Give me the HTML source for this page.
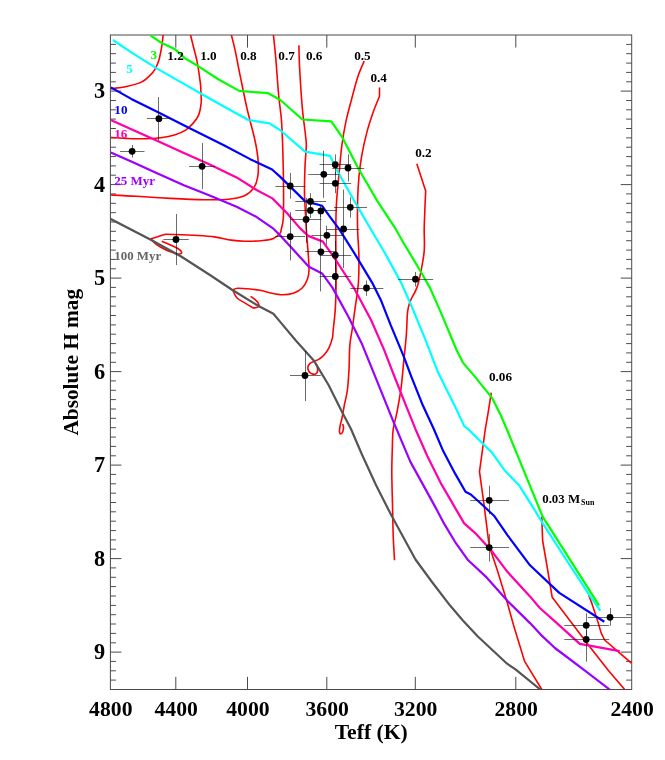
<!DOCTYPE html>
<html><head><meta charset="utf-8"><title>HR diagram</title>
<style>
html,body{margin:0;padding:0;background:#fff;}
body{width:665px;height:760px;position:relative;overflow:hidden;font-family:"Liberation Serif",serif;}
</style></head><body>
<svg width="665" height="760" viewBox="0 0 665 760" style="position:absolute;left:0;top:0;will-change:transform;opacity:0.999">
<defs><clipPath id="cp"><rect x="110.4" y="35.0" width="521.3" height="654.5"/></clipPath></defs>
<g stroke="#4a4a4a" stroke-width="1" fill="none" >
<rect x="110.4" y="35.0" width="521.3" height="654.5"/>
<path d="M110.4 44.4h5.5 M631.7 44.4h-5.5 M110.4 53.7h5.5 M631.7 53.7h-5.5 M110.4 63.1h5.5 M631.7 63.1h-5.5 M110.4 72.4h5.5 M631.7 72.4h-5.5 M110.4 81.8h5.5 M631.7 81.8h-5.5 M110.4 91.1h11.0 M631.7 91.1h-11.0 M110.4 100.5h5.5 M631.7 100.5h-5.5 M110.4 109.8h5.5 M631.7 109.8h-5.5 M110.4 119.1h5.5 M631.7 119.1h-5.5 M110.4 128.5h5.5 M631.7 128.5h-5.5 M110.4 137.9h5.5 M631.7 137.9h-5.5 M110.4 147.2h5.5 M631.7 147.2h-5.5 M110.4 156.6h5.5 M631.7 156.6h-5.5 M110.4 165.9h5.5 M631.7 165.9h-5.5 M110.4 175.2h5.5 M631.7 175.2h-5.5 M110.4 184.6h11.0 M631.7 184.6h-11.0 M110.4 193.9h5.5 M631.7 193.9h-5.5 M110.4 203.3h5.5 M631.7 203.3h-5.5 M110.4 212.7h5.5 M631.7 212.7h-5.5 M110.4 222.0h5.5 M631.7 222.0h-5.5 M110.4 231.3h5.5 M631.7 231.3h-5.5 M110.4 240.7h5.5 M631.7 240.7h-5.5 M110.4 250.1h5.5 M631.7 250.1h-5.5 M110.4 259.4h5.5 M631.7 259.4h-5.5 M110.4 268.8h5.5 M631.7 268.8h-5.5 M110.4 278.1h11.0 M631.7 278.1h-11.0 M110.4 287.4h5.5 M631.7 287.4h-5.5 M110.4 296.8h5.5 M631.7 296.8h-5.5 M110.4 306.1h5.5 M631.7 306.1h-5.5 M110.4 315.5h5.5 M631.7 315.5h-5.5 M110.4 324.9h5.5 M631.7 324.9h-5.5 M110.4 334.2h5.5 M631.7 334.2h-5.5 M110.4 343.6h5.5 M631.7 343.6h-5.5 M110.4 352.9h5.5 M631.7 352.9h-5.5 M110.4 362.3h5.5 M631.7 362.3h-5.5 M110.4 371.6h11.0 M631.7 371.6h-11.0 M110.4 380.9h5.5 M631.7 380.9h-5.5 M110.4 390.3h5.5 M631.7 390.3h-5.5 M110.4 399.6h5.5 M631.7 399.6h-5.5 M110.4 409.0h5.5 M631.7 409.0h-5.5 M110.4 418.3h5.5 M631.7 418.3h-5.5 M110.4 427.7h5.5 M631.7 427.7h-5.5 M110.4 437.1h5.5 M631.7 437.1h-5.5 M110.4 446.4h5.5 M631.7 446.4h-5.5 M110.4 455.8h5.5 M631.7 455.8h-5.5 M110.4 465.1h11.0 M631.7 465.1h-11.0 M110.4 474.4h5.5 M631.7 474.4h-5.5 M110.4 483.8h5.5 M631.7 483.8h-5.5 M110.4 493.2h5.5 M631.7 493.2h-5.5 M110.4 502.5h5.5 M631.7 502.5h-5.5 M110.4 511.8h5.5 M631.7 511.8h-5.5 M110.4 521.2h5.5 M631.7 521.2h-5.5 M110.4 530.6h5.5 M631.7 530.6h-5.5 M110.4 539.9h5.5 M631.7 539.9h-5.5 M110.4 549.2h5.5 M631.7 549.2h-5.5 M110.4 558.6h11.0 M631.7 558.6h-11.0 M110.4 567.9h5.5 M631.7 567.9h-5.5 M110.4 577.3h5.5 M631.7 577.3h-5.5 M110.4 586.6h5.5 M631.7 586.6h-5.5 M110.4 596.0h5.5 M631.7 596.0h-5.5 M110.4 605.4h5.5 M631.7 605.4h-5.5 M110.4 614.7h5.5 M631.7 614.7h-5.5 M110.4 624.0h5.5 M631.7 624.0h-5.5 M110.4 633.4h5.5 M631.7 633.4h-5.5 M110.4 642.8h5.5 M631.7 642.8h-5.5 M110.4 652.1h11.0 M631.7 652.1h-11.0 M110.4 661.4h5.5 M631.7 661.4h-5.5 M110.4 670.8h5.5 M631.7 670.8h-5.5 M110.4 680.1h5.5 M631.7 680.1h-5.5 M175.8 35.0v12.6 M175.8 689.5v-12.6 M247.5 35.0v12.6 M247.5 689.5v-12.6 M326.8 35.0v12.6 M326.8 689.5v-12.6 M415.3 35.0v12.6 M415.3 689.5v-12.6 M515.8 35.0v12.6 M515.8 689.5v-12.6"/>
</g>
<g fill="none" stroke-linejoin="round" stroke-linecap="butt" clip-path="url(#cp)">
<g stroke="#ff0000" stroke-width="1.6">
<path d="M163.2 34.7 C163.1 35.6 162.8 38.1 162.6 40.0 C162.4 41.9 162.1 44.0 161.8 46.0 C161.5 48.0 161.3 49.3 160.8 51.7 C160.3 54.1 159.7 57.6 158.8 60.5 C157.9 63.4 156.6 66.3 155.2 68.8 C153.8 71.2 152.5 73.0 150.2 75.2 C147.9 77.4 145.2 80.3 141.4 82.1 C137.6 83.9 132.2 85.2 127.6 86.2 C123.0 87.2 116.6 88.0 113.8 88.4 C111.0 88.8 111.0 88.6 110.5 88.6"/>
<path d="M190.5 34.7 C190.9 36.6 192.1 41.3 193.2 45.8 C194.3 50.3 195.9 55.5 197.1 61.6 C198.3 67.7 199.7 77.9 200.3 82.6 C200.9 87.3 200.7 86.7 200.8 90.0 C201.0 93.3 201.5 98.2 201.2 102.4 C200.8 106.6 200.0 111.5 198.7 114.9 C197.4 118.4 195.4 120.6 193.2 123.1 C191.0 125.6 188.7 128.1 185.6 130.1 C182.5 132.1 178.7 133.6 174.5 134.9 C170.3 136.2 165.7 137.0 160.7 137.7 C155.7 138.3 150.3 138.7 144.5 138.8 C138.7 138.9 131.6 138.6 126.0 138.4 C120.4 138.2 113.3 137.6 110.8 137.4"/>
<path d="M231.3 34.7 C232.0 37.4 233.8 44.0 235.3 51.1 C236.8 58.2 238.5 67.8 240.5 77.4 C242.5 87.0 244.7 98.4 247.1 108.9 C249.5 119.4 253.2 131.7 255.0 140.5 C256.9 149.3 257.8 155.4 258.2 161.6 C258.6 167.8 258.4 173.0 257.6 177.4 C256.9 181.8 255.9 184.8 253.7 187.9 C251.5 191.0 248.7 193.9 244.5 195.8 C240.3 197.7 235.3 198.5 228.7 199.2 C222.1 199.8 214.7 199.8 205.0 199.7 C195.3 199.6 182.2 199.0 170.8 198.4 C159.4 197.8 146.6 196.9 136.6 196.3 C126.6 195.7 115.1 195.2 110.8 195.0"/>
<path d="M273.4 34.7 C273.8 38.5 274.8 47.2 275.7 57.4 C276.6 67.6 277.7 85.0 278.7 95.8 C279.7 106.6 280.9 111.1 281.6 122.1 C282.3 133.1 282.8 148.9 283.1 161.6 C283.4 174.3 283.6 188.8 283.6 198.4 C283.6 208.1 283.6 214.4 283.2 219.5 C282.8 224.6 281.8 226.9 281.3 229.2 C280.8 231.5 281.3 231.7 280.0 233.2 C278.7 234.7 276.2 237.2 273.4 238.4 C270.5 239.6 267.6 240.0 262.9 240.5 C258.2 241.0 250.3 241.3 245.0 241.2 C239.7 241.1 236.4 240.8 231.3 240.1 C226.2 239.4 220.8 237.7 214.5 236.9 C208.2 236.1 201.5 235.8 193.4 235.3 C185.3 234.9 170.7 234.4 166.1 234.2 C164.7 234.6 160.1 235.9 157.6 236.7 C155.1 237.5 152.0 238.5 150.9 238.8 C151.8 239.8 154.1 242.8 156.6 244.7 C159.1 246.6 162.6 248.4 166.1 250.0 C169.6 251.6 175.7 253.5 177.6 254.2 C178.2 254.1 180.7 254.2 181.2 253.6 C181.7 253.0 181.5 251.5 180.4 250.4 C179.3 249.3 177.6 248.3 174.5 246.8 C171.4 245.3 163.9 242.1 161.8 241.2"/>
<path d="M298.9 45.3 C299.0 49.3 299.1 58.9 299.7 69.5 C300.3 80.1 301.4 97.9 302.4 108.9 C303.4 119.9 304.9 129.2 305.5 135.3 C306.1 141.5 306.4 140.6 306.3 145.8 C306.2 151.1 305.3 158.9 305.0 166.8 C304.7 174.7 304.4 185.3 304.5 193.2 C304.6 201.1 305.2 208.2 305.5 214.2 C305.8 220.2 305.8 222.2 306.3 229.2 C306.8 236.2 307.9 249.5 308.4 256.3 C308.8 263.1 309.1 266.2 309.0 270.0 C308.9 273.8 308.6 276.0 307.5 279.0 C306.4 282.0 304.6 285.6 302.2 288.0 C299.8 290.4 296.4 292.2 293.2 293.3 C289.9 294.4 286.2 294.8 282.7 294.8 C279.2 294.8 275.9 294.1 272.1 293.3 C268.3 292.6 264.1 291.1 260.1 290.3 C256.1 289.6 251.8 289.1 248.1 288.8 C244.3 288.5 240.2 288.1 237.6 288.3 C235.0 288.5 233.5 289.6 232.7 289.8 C233.4 291.1 234.7 295.6 236.8 297.8 C238.9 300.0 242.3 301.4 245.1 303.1 C247.8 304.8 251.9 307.2 253.3 308.0 C254.2 307.8 257.8 307.6 258.6 306.8 C259.4 306.0 258.9 304.4 258.3 303.1 C257.7 301.9 256.1 300.4 254.8 299.3 C253.5 298.2 251.3 296.8 250.6 296.3"/>
<path d="M364.2 61.1 C363.1 63.8 359.8 70.7 357.6 77.4 C355.4 84.1 353.1 93.6 351.1 101.1 C349.1 108.5 347.4 114.6 345.8 122.1 C344.2 129.6 342.9 137.5 341.8 145.8 C340.7 154.1 340.1 162.9 339.2 172.1 C338.3 181.3 337.2 191.6 336.6 201.1 C336.0 210.6 335.9 215.6 335.8 229.2 C335.7 242.8 336.2 269.3 336.1 282.6 C336.0 295.9 335.8 301.0 335.3 308.9 C334.8 316.8 333.7 325.2 333.2 330.0 C332.7 334.8 333.1 335.0 332.4 337.9 C331.7 340.8 330.5 344.6 329.2 347.4 C327.9 350.2 326.2 352.5 324.5 354.5 C322.8 356.5 320.7 358.1 319.0 359.2 C317.3 360.3 315.6 360.6 314.2 361.3 C312.8 362.0 311.4 362.2 310.3 363.2 C309.2 364.2 308.2 365.8 307.9 367.1 C307.6 368.4 308.2 370.1 308.7 371.1 C309.2 372.2 310.1 372.9 311.1 373.4 C312.2 373.9 313.9 374.4 315.0 374.2 C316.1 373.9 317.0 372.9 317.4 371.9 C317.8 370.8 317.6 369.2 317.4 367.9 C317.2 366.6 316.2 364.6 316.0 364.0"/>
<path d="M379.5 87.4 L379.5 96.3 C378.5 98.8 375.5 105.5 373.4 111.6 C371.3 117.6 368.8 125.1 366.8 132.6 C364.8 140.1 362.9 148.8 361.6 156.3 C360.3 163.8 359.6 169.9 358.9 177.4 C358.2 184.9 357.8 192.5 357.6 201.1 C357.4 209.7 357.4 220.0 357.6 229.2 C357.8 238.4 358.8 247.4 358.9 256.3 C359.0 265.2 359.0 273.8 358.4 282.6 C357.8 291.4 356.1 301.0 355.0 308.9 C353.9 316.8 353.0 323.9 352.1 330.0 C351.2 336.1 350.3 339.2 349.8 345.8 C349.3 352.4 349.4 362.1 349.0 369.5 C348.6 376.9 348.2 383.9 347.4 390.0 C346.6 396.1 345.1 401.1 344.2 405.8 C343.3 410.6 342.6 415.1 341.9 418.5 C341.2 421.9 340.4 424.2 340.0 426.4 C339.6 428.6 339.4 430.6 339.5 431.9 C339.6 433.1 340.1 433.9 340.6 433.9 C341.1 433.9 342.2 433.0 342.7 431.9 C343.2 430.8 343.5 428.5 343.5 427.2 C343.5 425.9 342.8 424.5 342.7 424.0"/>
<path d="M416.8 163.7 L425.7 191.0 C425.5 194.9 424.9 207.8 424.7 214.2 C424.4 220.6 424.3 223.0 424.2 229.2 C424.1 235.3 424.8 243.9 424.2 251.1 C423.6 258.2 422.0 266.0 420.8 272.1 C419.6 278.2 418.6 283.1 416.8 287.9 C415.1 292.7 411.8 297.2 410.3 301.1 C408.8 305.1 408.3 305.9 407.6 311.6 C406.9 317.3 407.0 327.0 406.3 335.3 C405.6 343.6 404.6 352.8 403.7 361.6 C402.8 370.4 402.2 379.6 401.1 387.9 C400.0 396.2 398.4 404.7 397.1 411.6 C395.8 418.5 394.0 423.5 393.2 429.2 C392.4 434.9 392.6 438.6 392.4 445.8 C392.2 453.0 391.8 461.6 391.8 472.1 C391.8 482.6 392.4 498.4 392.6 508.9 C392.8 519.4 392.9 526.7 393.2 535.3 C393.5 543.9 394.3 556.1 394.5 560.3"/>
<path d="M491.3 392.6 L487.9 414.2 L485.3 429.2 L479.5 471.6 L483.9 503.7 L489.2 545.8 L497.1 569.5 L507.6 603.7 L513.4 624.7 L524.5 661.1 L541.8 689.5"/>
<path d="M541.8 516.8 L542.6 540.5 L546.0 560.0 L552.2 597.3 L569.1 619.5 L588.6 645.3 L608.2 670.2 L624.9 689.8"/>
<path d="M588.6 594.7 L592.2 604.4 L597.5 620.4 L601.1 632.9 L604.6 640.0 L618.9 652.4 L631.7 663.4"/>
</g>
<path d="M110.3 218.8 L150.3 239.5 L180.8 256.3 L210.3 275.2 L232.4 290.0 L257.6 305.5 L273.4 313.7 L280.0 321.6 L295.8 340.5 L314.2 361.1 L328.7 385.3 L341.8 411.6 L351.1 429.2 L361.6 453.7 L376.1 485.3 L391.6 515.8 L415.5 559.5 L432.0 582.0 L450.3 605.8 L462.9 620.5 L477.6 636.3 L507.1 663.7 L515.5 669.4 L540.3 689.5" stroke="#555555" stroke-width="2.2"/>
<path d="M110.8 152.4 L131.3 161.6 L157.6 173.4 L183.9 185.3 L210.3 195.8 L236.6 206.8 L256.3 216.8 L273.4 228.7 L280.0 235.3 L294.5 251.1 L308.9 266.8 L322.1 273.4 L332.6 287.9 L348.4 316.8 L361.6 343.2 L373.4 372.1 L393.4 421.6 L410.3 461.6 L436.6 509.4 L443.2 522.1 L455.0 541.8 L468.2 560.3 L486.6 577.4 L507.6 601.1 L530.0 623.1 L540.7 634.6 L554.9 648.0 L583.3 669.3 L610.0 689.8" stroke="#9b00ff" stroke-width="2.2"/>
<path d="M110.8 120.0 L131.3 129.2 L157.6 141.1 L183.9 152.9 L210.3 164.7 L236.6 177.4 L256.6 190.0 L272.4 198.4 L287.1 213.2 L299.7 227.9 L308.2 235.9 L322.9 241.6 L335.5 259.5 L354.5 288.9 L371.3 320.5 L383.9 349.4 L395.8 380.0 L406.3 406.3 L415.5 429.2 L427.4 456.3 L440.5 482.6 L455.0 507.6 L464.2 523.4 L476.1 533.9 L491.8 551.1 L507.6 572.1 L530.0 596.4 L539.8 608.0 L554.9 621.3 L579.8 643.9 L619.7 651.2" stroke="#ff00aa" stroke-width="2.2"/>
<path d="M110.8 87.4 L131.3 98.9 L157.6 112.1 L189.2 127.9 L223.4 145.0 L249.7 158.9 L272.1 169.5 L280.0 176.6 L305.0 201.1 L322.1 205.8 L330.0 216.8 L339.2 229.2 L356.3 256.3 L372.1 282.6 L381.3 301.1 L390.5 324.7 L403.7 356.3 L411.6 377.4 L422.1 403.7 L433.9 429.2 L443.2 451.1 L455.0 473.4 L465.5 491.8 L470.8 494.5 L483.9 506.3 L494.5 516.3 L507.6 535.3 L530.0 565.3 L559.3 592.9 L604.3 621.8" stroke="#0000ff" stroke-width="2.2"/>
<path d="M112.9 40.0 L131.3 52.4 L157.6 68.9 L183.9 83.9 L201.1 93.7 L223.4 106.3 L248.4 120.0 L269.5 123.4 L280.0 130.0 L305.0 151.6 L330.0 155.8 L336.6 169.5 L348.4 190.5 L358.9 208.9 L370.8 229.2 L385.3 253.7 L401.1 282.6 L411.6 306.3 L424.7 337.9 L437.9 372.1 L448.4 393.2 L455.0 406.3 L464.2 426.1 L468.2 429.2 L491.8 452.4 L505.0 470.8 L519.5 485.8 L533.9 508.9 L544.5 526.1 L566.4 560.0 L588.6 593.8 L600.2 610.6" stroke="#00ffff" stroke-width="2.2"/>
<path d="M150.3 35.3 L161.8 43.1 L174.5 48.9 L185.0 58.4 L197.6 65.8 L218.7 79.5 L239.7 91.1 L241.8 91.1 L268.2 93.2 L280.0 99.7 L302.4 119.5 L331.3 121.3 L341.8 136.6 L358.9 169.5 L377.4 201.1 L395.8 229.2 L403.7 243.2 L419.5 269.5 L430.0 287.9 L440.5 311.6 L456.6 350.0 L462.9 362.6 L475.5 377.4 L483.9 387.9 L492.4 398.4 L500.8 415.3 L507.1 430.0 L542.5 516.3 L599.0 605.3" stroke="#00ff00" stroke-width="2.2"/>
</g>
<path d="M120.0 151.5H144.5 M132.5 145.0V157.6 M147.0 118.5H171.0 M158.5 97.0V140.5 M189.0 166.5H215.0 M202.5 143.0V189.0 M163.4 239.5H188.7 M176.5 214.0V265.0 M275.4 186.5H305.2 M290.5 172.9V198.7 M319.6 164.5H351.2 M335.5 154.4V175.0 M332.3 168.5H364.2 M348.5 154.4V181.5 M308.3 174.5H339.5 M323.5 150.8V197.8 M319.6 183.5H351.2 M335.5 172.0V193.2 M295.3 201.5H326.0 M310.5 193.2V209.5 M295.3 210.5H326.0 M310.5 202.0V218.0 M310.6 210.5H336.8 M320.5 205.0V217.0 M290.8 219.5H321.4 M306.5 197.8V242.9 M334.0 207.5H367.0 M350.5 197.4V217.6 M326.9 229.5H359.4 M343.5 189.6V268.0 M275.4 236.5H305.2 M290.5 212.2V260.4 M311.5 235.5H342.2 M326.5 225.7V244.7 M305.2 251.5H336.8 M320.5 211.0V291.4 M319.6 255.5H351.2 M335.5 241.0V270.0 M319.6 276.5H351.2 M335.5 262.0V289.6 M350.3 288.5H383.4 M366.5 280.5V295.9 M397.9 279.5H433.2 M415.5 272.0V286.6 M290.0 375.5H320.8 M305.5 351.0V401.0 M470.3 500.5H509.0 M489.5 485.8V514.2 M470.3 547.5H509.0 M489.5 534.0V561.6 M587.8 617.5H631.7 M610.5 608.0V625.8 M564.3 625.5H609.1 M586.5 613.3V636.0 M564.3 639.5H609.1 M586.5 630.0V661.7" stroke="#111" stroke-width="0.62" fill="none" clip-path="url(#cp)"/>
<g fill="#000">
<circle cx="132.1" cy="151.3" r="3.4"/>
<circle cx="158.9" cy="118.7" r="3.4"/>
<circle cx="202.1" cy="166.3" r="3.4"/>
<circle cx="176.0" cy="239.5" r="3.4"/>
<circle cx="290.2" cy="186.0" r="3.4"/>
<circle cx="335.3" cy="164.7" r="3.4"/>
<circle cx="348.0" cy="168.0" r="3.4"/>
<circle cx="323.8" cy="174.3" r="3.4"/>
<circle cx="335.3" cy="183.3" r="3.4"/>
<circle cx="310.4" cy="201.4" r="3.4"/>
<circle cx="310.4" cy="210.4" r="3.4"/>
<circle cx="320.9" cy="210.9" r="3.4"/>
<circle cx="306.1" cy="219.4" r="3.4"/>
<circle cx="350.3" cy="207.3" r="3.4"/>
<circle cx="343.6" cy="229.0" r="3.4"/>
<circle cx="290.2" cy="236.6" r="3.4"/>
<circle cx="326.9" cy="235.3" r="3.4"/>
<circle cx="320.9" cy="251.8" r="3.4"/>
<circle cx="335.3" cy="255.2" r="3.4"/>
<circle cx="335.3" cy="276.5" r="3.4"/>
<circle cx="366.5" cy="288.0" r="3.4"/>
<circle cx="415.5" cy="279.2" r="3.4"/>
<circle cx="305.0" cy="375.5" r="3.4"/>
<circle cx="489.2" cy="500.3" r="3.4"/>
<circle cx="489.2" cy="547.6" r="3.4"/>
<circle cx="610.0" cy="617.3" r="3.4"/>
<circle cx="586.2" cy="625.3" r="3.4"/>
<circle cx="586.2" cy="639.5" r="3.4"/>
</g>
<g font-family="'Liberation Serif', serif" font-weight="bold">
<text x="105.2" y="98.3" font-size="22.3" fill="#000" text-anchor="end" >3</text>
<text x="105.2" y="191.8" font-size="22.3" fill="#000" text-anchor="end" >4</text>
<text x="105.2" y="285.3" font-size="22.3" fill="#000" text-anchor="end" >5</text>
<text x="105.2" y="378.8" font-size="22.3" fill="#000" text-anchor="end" >6</text>
<text x="105.2" y="472.3" font-size="22.3" fill="#000" text-anchor="end" >7</text>
<text x="105.2" y="565.8" font-size="22.3" fill="#000" text-anchor="end" >8</text>
<text x="105.2" y="659.3" font-size="22.3" fill="#000" text-anchor="end" >9</text>
<text x="110.8" y="716.2" font-size="21.7" fill="#000" text-anchor="middle" >4800</text>
<text x="176.2" y="716.2" font-size="21.7" fill="#000" text-anchor="middle" >4400</text>
<text x="247.9" y="716.2" font-size="21.7" fill="#000" text-anchor="middle" >4000</text>
<text x="327.2" y="716.2" font-size="21.7" fill="#000" text-anchor="middle" >3600</text>
<text x="415.7" y="716.2" font-size="21.7" fill="#000" text-anchor="middle" >3200</text>
<text x="516.2" y="716.2" font-size="21.7" fill="#000" text-anchor="middle" >2800</text>
<text x="632.1" y="716.2" font-size="21.7" fill="#000" text-anchor="middle" >2400</text>
<text x="371.2" y="738.8" font-size="21.6" fill="#000" text-anchor="middle" >Teff (K)</text>
<text transform="translate(77.8 362.2) rotate(-90)" font-size="21.3" text-anchor="middle">Absolute H mag</text>
<text x="175.5" y="60.3" font-size="13.2" fill="#000" text-anchor="middle" >1.2</text>
<text x="208.4" y="60.3" font-size="13.2" fill="#000" text-anchor="middle" >1.0</text>
<text x="248.4" y="60.3" font-size="13.2" fill="#000" text-anchor="middle" >0.8</text>
<text x="286.6" y="60.3" font-size="13.2" fill="#000" text-anchor="middle" >0.7</text>
<text x="314.2" y="60.3" font-size="13.2" fill="#000" text-anchor="middle" >0.6</text>
<text x="362.4" y="60.3" font-size="13.2" fill="#000" text-anchor="middle" >0.5</text>
<text x="378.7" y="82.0" font-size="13.2" fill="#000" text-anchor="middle" >0.4</text>
<text x="423.4" y="156.5" font-size="13.2" fill="#000" text-anchor="middle" >0.2</text>
<text x="500.5" y="381.0" font-size="13.2" fill="#000" text-anchor="middle" >0.06</text>
<text x="542.2" y="502.8" font-size="12.9" fill="#000" text-anchor="start" >0.03 M</text>
<text x="581.0" y="505.3" font-size="8.0" fill="#000" text-anchor="start" >Sun</text>
<text x="153.9" y="58.7" font-size="13.2" fill="#00ff00" text-anchor="middle" >3</text>
<text x="129.5" y="73.2" font-size="13.2" fill="#00ffff" text-anchor="middle" >5</text>
<text x="120.9" y="114.1" font-size="13.2" fill="#0000ff" text-anchor="middle" >10</text>
<text x="120.8" y="138.4" font-size="13.2" fill="#ff00aa" text-anchor="middle" >16</text>
<text x="114.3" y="185.4" font-size="13.0" fill="#9b00ff" text-anchor="start" >25 Myr</text>
<text x="114.3" y="259.8" font-size="12.9" fill="#666" text-anchor="start" >100 Myr</text>
</g>
</svg>
</body></html>
